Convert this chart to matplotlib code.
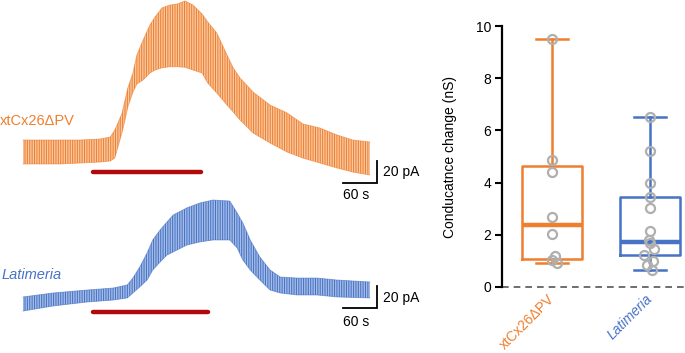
import matplotlib
matplotlib.use("Agg")
import matplotlib.pyplot as plt
import numpy as np

plt.rcParams['font.family'] = ['Liberation Sans', 'DejaVu Sans']
plt.rcParams['hatch.linewidth'] = 0.75

# ---------------- data ----------------
# whole-cell current traces (envelope of the oscillating current), time in s, current in pA
orange_t = [0, 30, 65, 101, 136, 154, 162, 166, 175, 180, 185, 194, 201, 212, 224, 233, 245, 259,
            272, 286, 300, 316, 326, 342, 360, 371, 383, 406, 436, 466, 494, 524, 554, 582, 612]
orange_hi = [10.9, 10.9, 10.9, 10.9, 11.8, 13.6, 20, 24.5, 35.5, 47.3, 58.2, 71.8, 88.2, 101.8,
             115.5, 122.7, 130.9, 133.6, 134.5, 137.3, 133.6, 125.5, 118.2, 108.2, 88.2, 76.4,
             67.3, 54.5, 42.7, 35.5, 25.5, 21.8, 15.5, 10.9, 9.1]
orange_lo = [-10.9, -10.9, -10.9, -10, -9.1, -8.2, -5.5, 1.8, 18.2, 29.1, 40.9, 54.5, 61.8, 65.5,
             71.8, 74.5, 76.5, 77.5, 77.5, 77.0, 74.5, 71.8, 62.7, 53.6, 42.7, 36.4, 29.1, 17.3,
             8.2, 0, -5.5, -10, -14.5, -18.2, -20.9]

blue_t = [0, 53, 113, 159, 184, 194, 206, 219, 229, 242, 254, 265, 289, 312, 335, 365, 378, 388,
          401, 418, 436, 454, 484, 519, 554, 612]
blue_hi = [6.4, 10, 12.7, 14.5, 17.3, 23.6, 33.6, 46.4, 58.2, 67.3, 74.5, 80.9, 87.3, 91.8, 94.5,
           93.6, 82.7, 73.6, 58.2, 42.7, 30.9, 24.5, 23.6, 23.6, 21.8, 20]
blue_lo = [-6.4, -1.8, 1.8, 3.6, 5.5, 10, 15.5, 21.8, 30.9, 38.2, 44.5, 47.3, 53.6, 56.4, 58.2,
           58.2, 50.9, 40, 30.9, 21.8, 12.7, 10, 8.2, 8.2, 6.4, 5.5]

# application periods (s)
orange_app = [124, 314]
blue_app = [124, 326]

# conductance change (nS)
categories = ['xtCx26\u0394PV', 'Latimeria']
orange_pts = [9.49, 4.85, 4.39, 2.68, 2.04, 1.20, 1.02, 0.92]
orange_jit = [0, 0, 0, 0, 0, 0.027, 0, 0.05]
blue_pts = [6.53, 5.22, 3.99, 3.44, 3.01, 2.16, 1.79, 1.67, 1.45, 1.24, 0.98, 0.83, 0.66]
blue_jit = [0, 0, 0, 0, 0, 0, -0.013, 0, 0.044, -0.058, 0.027, -0.03, 0.017]
q1 = [1.08, 1.24]
med = [2.36, 1.72]
q3 = [4.62, 3.44]
whislo = [0.92, 0.66]
whishi = [9.49, 6.53]

ORANGE = '#EF7F2F'
ORANGE_L = '#F8C9A2'
BLUE = '#4673C6'
BLUE_L = '#A7BDE6'
RED = '#B00A0A'

W, H = 685, 353
fig = plt.figure(figsize=(W / 100, H / 100), dpi=100)

# ---------------- traces ----------------
s_per_px = 60 / 34.0
pa_per_px = 20 / 22.0
x0px = 23
axw_px = 425
ax = fig.add_axes([0, 0, axw_px / W, 1])
ax.set_xlim(-x0px * s_per_px, (axw_px - x0px) * s_per_px)
ax.set_ylim(0, H * pa_per_px)
ax.axis('off')

off_orange = (H - 152) * pa_per_px
off_blue = (H - 304) * pa_per_px


def trace(t, hi, lo, off, dark, light):
    t = np.asarray(t, float)
    hi = np.asarray(hi, float) + off
    lo = np.asarray(lo, float) + off
    ax.fill_between(t, lo, hi, facecolor=light, edgecolor=dark, linewidth=0,
                    hatch='|||||||')
    ax.plot(t, hi, color=dark, lw=0.6, alpha=0.6)
    ax.plot(t, lo, color=dark, lw=0.6, alpha=0.6)


trace(orange_t, orange_hi, orange_lo, off_orange, ORANGE, ORANGE_L)
trace(blue_t, blue_hi, blue_lo, off_blue, BLUE, BLUE_L)

# application bars
ax.plot(orange_app, [(H - 172) * pa_per_px] * 2, color=RED, lw=3.2, solid_capstyle='round')
ax.plot(blue_app, [(H - 312) * pa_per_px] * 2, color=RED, lw=3.2, solid_capstyle='round')

# scale bars: 60 s, 20 pA
sx = (377 - x0px) * s_per_px
for ybot_px in (183, 308):
    yb = (H - ybot_px) * pa_per_px
    ax.plot([sx - 60, sx, sx], [yb, yb, yb + 20], color='black', lw=1.3,
            solid_joinstyle='miter')

fig.text(383 / W, 1 - 172 / H, '20 pA', fontsize=10, ha='left', va='center')
fig.text(343 / W, 1 - 195 / H, '60 s', fontsize=10, ha='left', va='center')
fig.text(383 / W, 1 - 298 / H, '20 pA', fontsize=10, ha='left', va='center')
fig.text(343 / W, 1 - 322 / H, '60 s', fontsize=10, ha='left', va='center')

fig.text(0 / W, 1 - 125 / H, categories[0], fontsize=10.5, color=ORANGE, ha='left', va='baseline')
fig.text(2 / W, 1 - 279 / H, categories[1], fontsize=10.5, color=BLUE, ha='left', va='baseline',
         style='italic')

# ---------------- box plot ----------------
left, right = 502, 685
top, bot = 26, 287
bx = fig.add_axes([left / W, 1 - bot / H, (right - left) / W, (bot - top) / H])
pos = [1, 2]
colors = [ORANGE, BLUE]
for i in range(2):
    st = dict(q1=q1[i], med=med[i], q3=q3[i], whislo=whislo[i], whishi=whishi[i], fliers=[])
    bx.bxp([st], positions=[pos[i]], widths=0.61, capwidths=0.32, showfliers=False,
           boxprops=dict(color=colors[i], lw=1.8),
           whiskerprops=dict(color=colors[i], lw=1.8),
           capprops=dict(color=colors[i], lw=1.8),
           medianprops=dict(color=colors[i], lw=3.2))

for i, (pts, jit) in enumerate([(orange_pts, orange_jit), (blue_pts, blue_jit)]):
    bx.plot(np.array(jit) + pos[i], pts, 'o', mfc='none', mec='#AFAFAF', mew=1.6, ms=6.5,
            clip_on=False, zorder=5)

bx.axhline(0, color='#555555', lw=1.2, ls=(0, (4, 3)), clip_on=False)
bx.set_ylim(0, 10)
bx.set_xlim(1 - 50 / 98, 2 + 35 / 98)
bx.set_yticks([0, 2, 4, 6, 8, 10])
bx.tick_params(axis='y', length=5, width=1.5, labelsize=10, pad=3)
bx.spines['left'].set_linewidth(1.6)
for s in ('top', 'right', 'bottom'):
    bx.spines[s].set_visible(False)
bx.set_xticks(pos)
bx.set_xticklabels(categories)
bx.tick_params(axis='x', length=0, labelsize=10, pad=7)
for lab, c in zip(bx.get_xticklabels(), colors):
    lab.set_color(c)
    lab.set_rotation(45)
    lab.set_ha('right')
    lab.set_va('center')
    lab.set_rotation_mode('anchor')
bx.get_xticklabels()[1].set_style('italic')
bx.set_ylabel('Conducatnce change (nS)', fontsize=10)
bx.yaxis.set_label_coords(-0.246, 0.5)

fig.savefig('out.png', dpi=100)
